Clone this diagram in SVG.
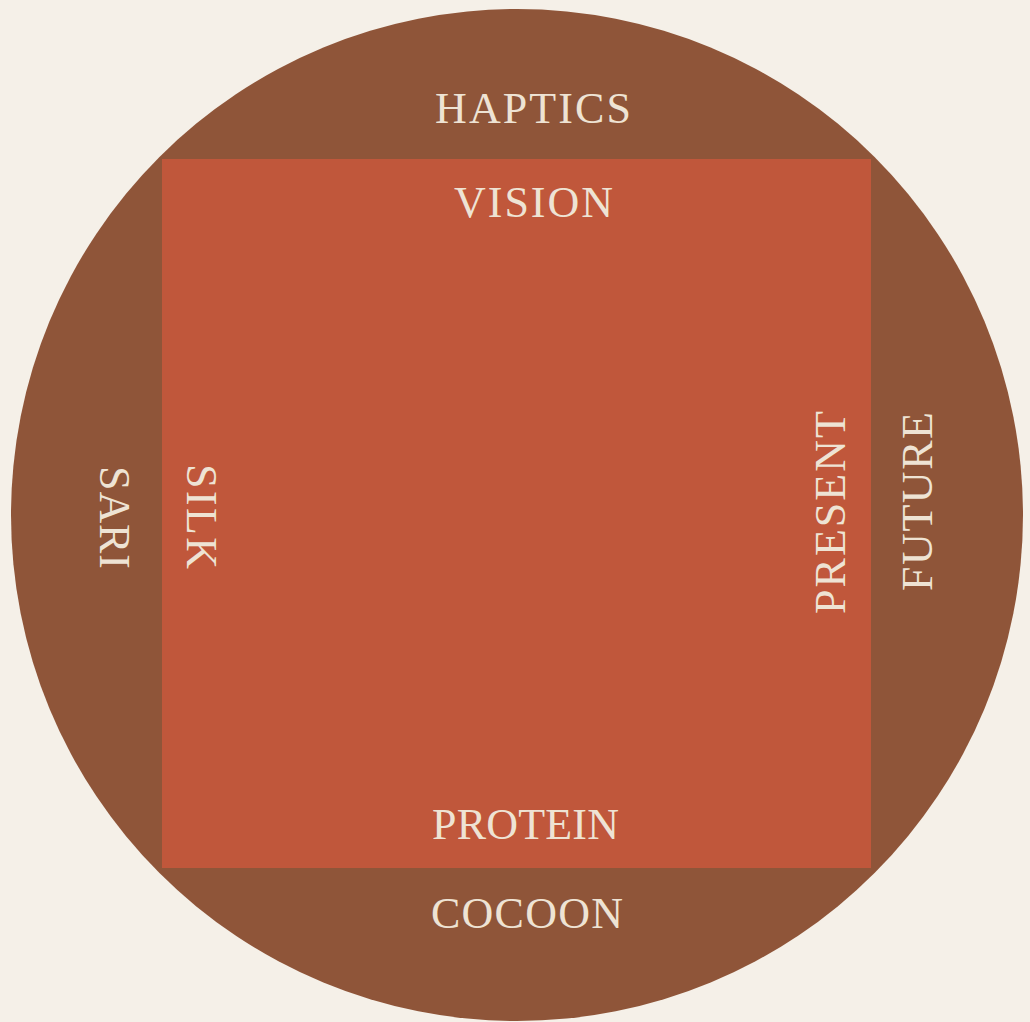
<svg xmlns="http://www.w3.org/2000/svg" width="1030" height="1022" viewBox="0 0 1030 1022">
<style>
.lbl{font-family:"Liberation Serif","Times New Roman",serif;font-size:44px;fill:#EEE3D4;text-anchor:middle}
</style>
<rect width="1030" height="1022" fill="#F5F0E8"/>
<g id="outer-circle">
<circle cx="517" cy="515" r="506" fill="#8F5539"/>
</g>
<g id="inner-square">
<rect x="162" y="159" width="709" height="709" fill="#C0573B"/>
</g>
<g id="labels">
<g id="haptics"><text class="lbl" x="533" y="123" textLength="196" lengthAdjust="spacing">HAPTICS</text></g>
<g id="vision"><text class="lbl" x="533.5" y="217" textLength="159" lengthAdjust="spacing">VISION</text></g>
<g id="protein"><text class="lbl" x="525.5" y="839" textLength="187" lengthAdjust="spacing">PROTEIN</text></g>
<g id="cocoon"><text class="lbl" x="527" y="928" textLength="192" lengthAdjust="spacing">COCOON</text></g>
<g id="sari"><text class="lbl" transform="translate(100,517.5) rotate(90)" x="0" y="0" textLength="103" lengthAdjust="spacing">SARI</text></g>
<g id="silk"><text class="lbl" transform="translate(187,516.5) rotate(90)" x="0" y="0" textLength="105" lengthAdjust="spacing">SILK</text></g>
<g id="present"><text class="lbl" transform="translate(845,512.5) rotate(-90)" x="0" y="0" textLength="203" lengthAdjust="spacing">PRESENT</text></g>
<g id="future"><text class="lbl" transform="translate(932,501.5) rotate(-90)" x="0" y="0" textLength="179" lengthAdjust="spacing">FUTURE</text></g>
</g>
<g id="connectors"/>
</svg>
